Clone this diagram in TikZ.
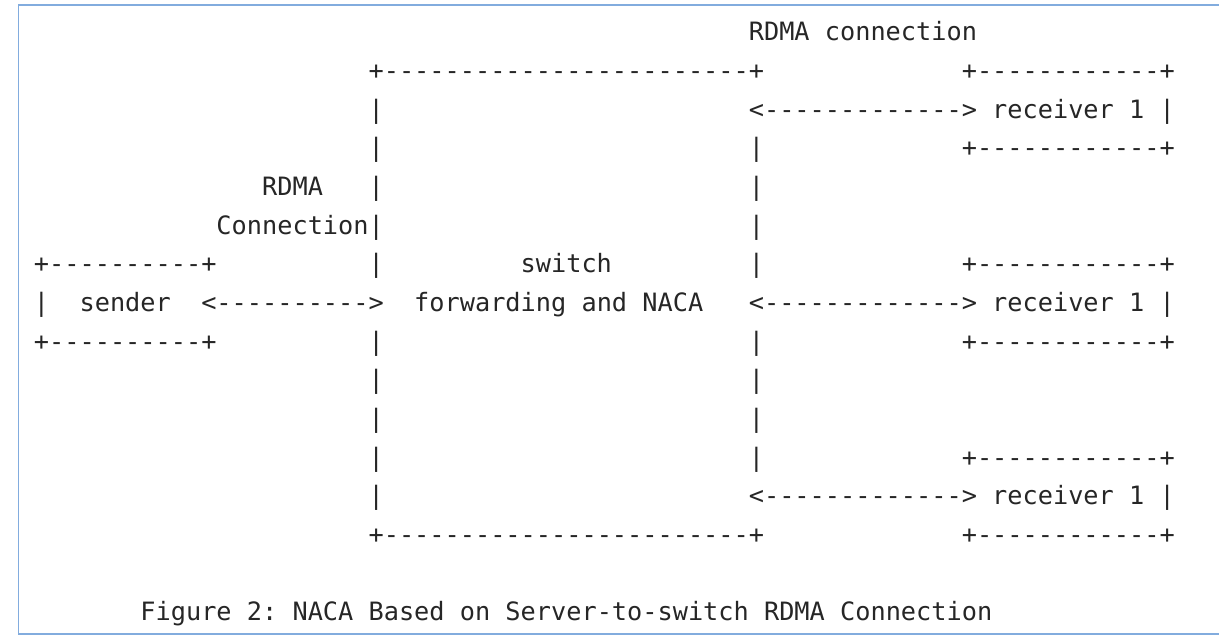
\documentclass[tikz,border=0pt]{standalone}
\usepackage{fontspec}
\setmonofont{DejaVu Sans Mono}
\definecolor{frameblue}{RGB}{130,172,222}
\definecolor{asciigrey}{RGB}{38,38,38}
\tikzset{
  ascii/.style={
    font=\ttfamily\fontsize{18.95pt}{29pt}\selectfont,
    text=asciigrey,
    inner sep=0pt,
    anchor=base west,
  },
  frame/.style={
    draw=frameblue,
    line width=1.2pt,
  },
}

\begin{document}
\begin{tikzpicture}[x=0.75pt, y=-0.75pt]
    \useasboundingbox (0,0) rectangle (1219,636);
    \draw [frame] (1219,5) -- (18.5,5) -- (18.5,634) -- (1219,634);

    % one unit = one character cell / one text line
    \begin{scope}[shift={(33.7,40.7)}, x=11.4075pt, y=-29.0025pt]
    \node (title) [ascii] at (47,0) {RDMA connection};

    % switch box
    \node (swtop) [ascii] at (22,1) {+------------------------+};
    \node (swbot) [ascii] at (22,13) {+------------------------+};
    \foreach \r in {2,3,4,6,8,9,10,11,12}
      \node (lbar\r) [ascii] at (22,\r) {|};
    \foreach \r in {3,4,5,6,8,9,10,11}
      \node (rbar\r) [ascii] at (47,\r) {|};
    \node (sw1) [ascii] at (32,6) {switch};
    \node (sw2) [ascii] at (25,7) {forwarding and NACA};

    % sender
    \node (lbl1) [ascii] at (15,4) {RDMA};
    \node (lbl2) [ascii] at (12,5) {Connection|};
    \node (sndtop) [ascii] at (0,6) {+----------+};
    \node (sndbar) [ascii] at (0,7) {|};
    \node (snd) [ascii] at (3,7) {sender};
    \node (sndbot) [ascii] at (0,8) {+----------+};
    \node (sndlink) [ascii] at (11,7) {<---------->};

    % receivers
    \foreach \r [count=\i] in {2,7,12} {
      \node (rcvtop\i) [ascii] at (61,\r-1) {+------------+};
      \node (rcvlink\i) [ascii] at (47,\r) {<------------->};
      \node (rcv\i) [ascii] at (63,\r) {receiver 1 |};
      \node (rcvbot\i) [ascii] at (61,\r+1) {+------------+};
    }

    \node (caption) [ascii] at (7,15) {Figure 2: NACA Based on Server-to-switch RDMA Connection};
    \end{scope}
\end{tikzpicture}
\end{document}
